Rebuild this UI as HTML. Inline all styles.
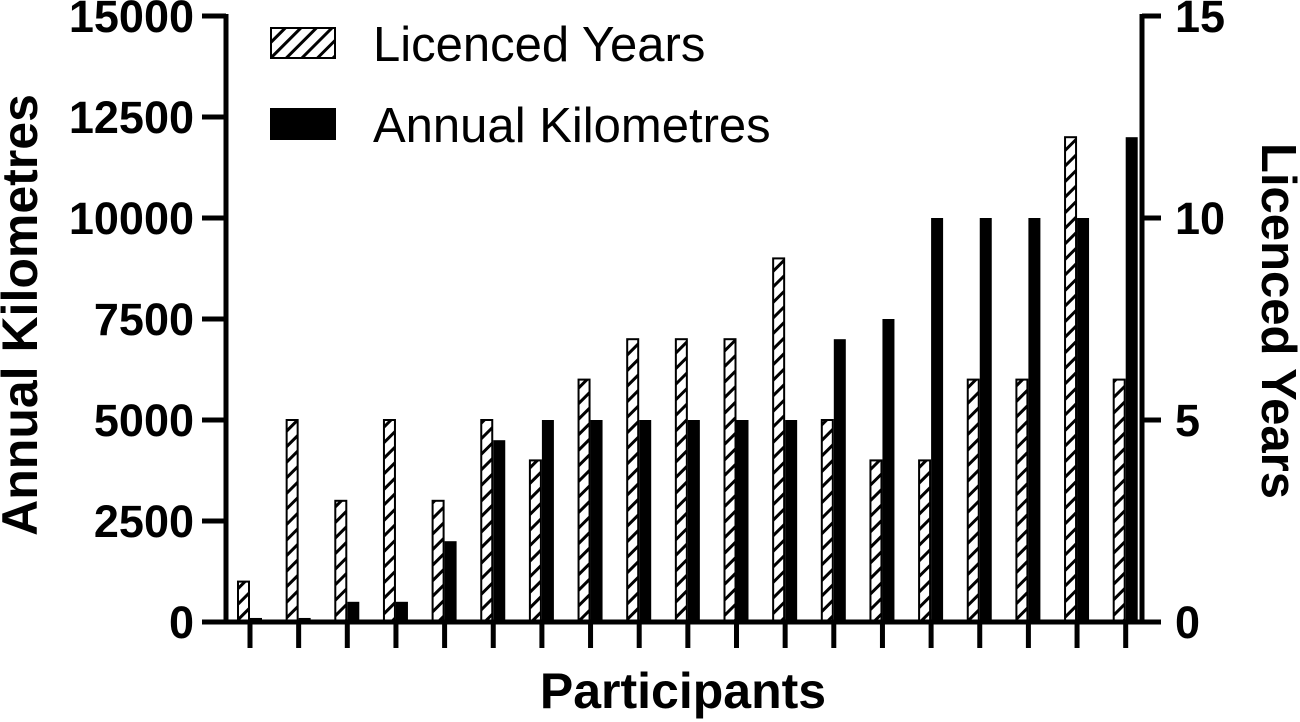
<!DOCTYPE html>
<html><head><meta charset="utf-8"><style>
body{margin:0;background:#fff}
svg{display:block;font-family:"Liberation Sans",Arial,sans-serif}
</style></head><body>
<svg id="chart" width="1300" height="722" viewBox="0 0 1300 722">
<defs>
<pattern id="hatch" patternUnits="userSpaceOnUse" width="11" height="11" patternTransform="rotate(45)">
<rect width="11" height="11" fill="#fff"/><rect x="0" y="0" width="3" height="11" fill="#000"/>
</pattern>
</defs>
<g id="bars"></g>
<g id="axes"></g>
<text x="20" y="315" transform="rotate(-90 20 315)" text-anchor="middle" dominant-baseline="central" font-size="50" font-weight="bold">Annual Kilometres</text>
<text x="1278" y="321" transform="rotate(90 1278 321)" text-anchor="middle" dominant-baseline="central" font-size="49" font-weight="bold">Licenced Years</text>
<text x="683" y="708" text-anchor="middle" font-size="50" font-weight="bold">Participants</text>
<g>
<rect x="271" y="28" width="64" height="30" fill="url(#hatch)" stroke="#000" stroke-width="2"/>
<text x="373" y="61" font-size="49">Licenced Years</text>
<rect x="270" y="108" width="66" height="32" fill="#000"/>
<text x="373" y="142" font-size="49">Annual Kilometres</text>
</g>
</svg>
<script>
const participants = [1,2,3,4,5,6,7,8,9,10,11,12,13,14,15,16,17,18,19];
const licencedYears = [1,5,3,5,3,5,4,6,7,7,7,9,5,4,4,6,6,12,6];
const annualKm = [100,100,500,500,2000,4500,5000,5000,5000,5000,5000,5000,7000,7500,10000,10000,10000,10000,12000];
const leftTicks = [0,2500,5000,7500,10000,12500,15000];
const rightTicks = [0,5,10,15];

const NS = "http://www.w3.org/2000/svg";
const y0 = 622, yTop = 16;
const yKm = v => y0 - v / 15000 * (y0 - yTop);
const yYr = v => y0 - v / 15 * (y0 - yTop);
const xC = i => 250 + i * 48.65;
const bw = 12;
function mk(tag, attrs, parent){const e=document.createElementNS(NS,tag);for(const k in attrs)e.setAttribute(k,attrs[k]);parent.appendChild(e);return e;}
const bars = document.getElementById('bars');
const axes = document.getElementById('axes');
participants.forEach((p, i) => {
  const cx = xC(i);
  const h = y0 - yYr(licencedYears[i]);
  const r1 = mk('rect', {x: cx - bw, y: yYr(licencedYears[i]), width: bw - 1, height: h, fill: 'url(#hatch)', stroke: '#000', 'stroke-width': 2}, bars);
  
  
  const hk = Math.max(y0 - yKm(annualKm[i]), 3);
  const r2 = mk('rect', {x: cx, y: y0 - hk, width: bw, height: hk, fill: '#000'}, bars);
  
  
  const t = mk('line', {x1: cx, x2: cx, y1: y0, y2: 648, stroke: '#000', 'stroke-width': 5}, axes);
  
  
});
const xl = mk('line', {x1: 202, x2: 1160, y1: y0, y2: y0, stroke: '#000', 'stroke-width': 5}, axes);


const ll = mk('line', {x1: 226, x2: 226, y1: yTop - 2, y2: y0, stroke: '#000', 'stroke-width': 5}, axes);


const rl = mk('line', {x1: 1142, x2: 1142, y1: yTop - 2, y2: y0, stroke: '#000', 'stroke-width': 5}, axes);


leftTicks.forEach(v => {
  const y = yKm(v);
  const t = mk('line', {x1: 202, x2: 226, y1: y, y2: y, stroke: '#000', 'stroke-width': 5}, axes);
  
  
  const tx = mk('text', {x: 194, y: y + 16, 'text-anchor': 'end', 'font-size': 45, 'font-weight': 'bold'}, axes);
  tx.textContent = v;
  
  
});
rightTicks.forEach(v => {
  const y = yYr(v);
  const t = mk('line', {x1: 1142, x2: 1161, y1: y, y2: y, stroke: '#000', 'stroke-width': 5}, axes);
  
  
  const tx = mk('text', {x: 1175, y: y + 16, 'text-anchor': 'start', 'font-size': 45, 'font-weight': 'bold'}, axes);
  tx.textContent = v;
  
  
});
</script>
</body></html>
